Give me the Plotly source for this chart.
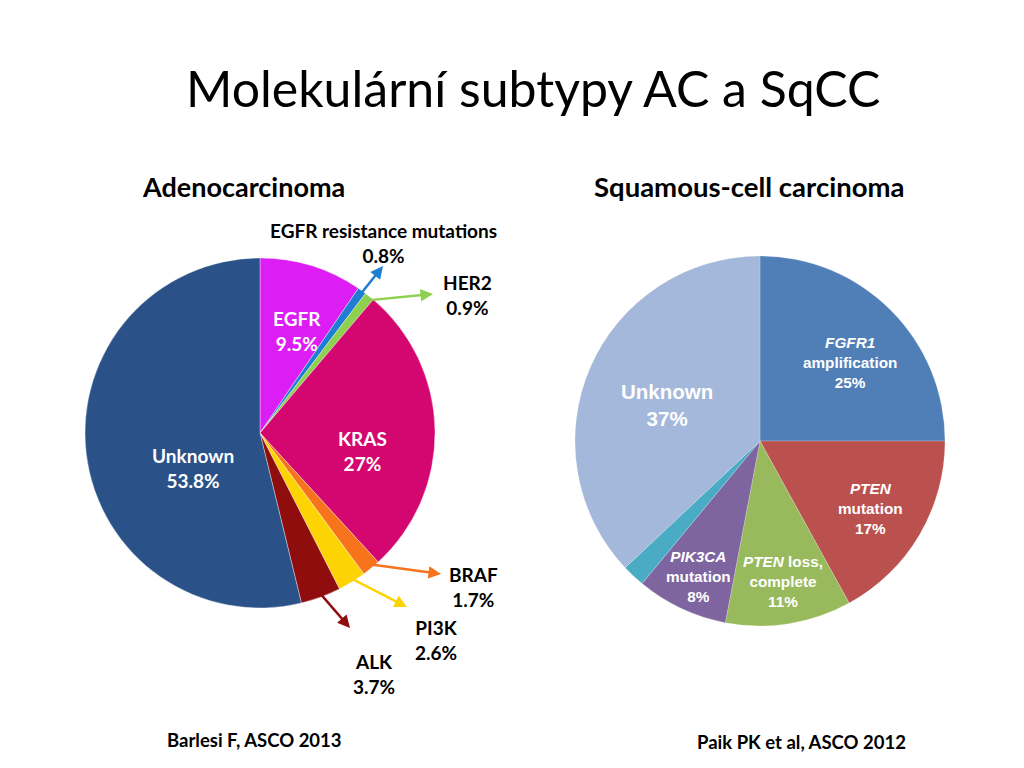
import math
import plotly.graph_objects as go

# Adenocarcinoma (Barlesi F, ASCO 2013)
ac_labels = ['EGFR', 'EGFR resistance mutations', 'HER2', 'KRAS', 'BRAF', 'PI3K', 'ALK', 'Unknown']
ac_values = [9.5, 0.8, 0.9, 27, 1.7, 2.6, 3.7, 53.8]
ac_colors = ['#DC1EF5', '#1F7ED2', '#8ED14E', '#D3076F', '#F7731C', '#FDD304', '#900D0D', '#2A5289']

# Squamous-cell carcinoma (Paik PK et al, ASCO 2012)
sq_labels = ['FGFR1 amplification', 'PTEN mutation', 'PTEN loss, complete', 'PIK3CA mutation', 'Other', 'Unknown']
sq_values = [25, 17, 11, 8, 2, 37]
sq_colors = ['#4F7FB6', '#BB514E', '#98B95C', '#7F65A0', '#4AACC4', '#A3B8DA']

W, H = 1024, 768
OFF = 8  # page body margin shifts everything by ~8px


def px(x, y):
    return (x - OFF) / W, 1 - (y - OFF) / H


def dom(x0, x1, y0, y1):
    a, b = px(x0, y1)
    c, d = px(x1, y0)
    return dict(x=[a, c], y=[b, d])


fig = go.Figure()

# left pie: centre (260, 433), radius 175 px
fig.add_trace(go.Pie(labels=ac_labels, values=ac_values, sort=False, direction='clockwise',
                     rotation=0, textinfo='none', hoverinfo='label+value',
                     marker=dict(colors=ac_colors, line=dict(color='rgba(255,255,255,0.6)', width=0.6)),
                     domain=dom(85, 435, 258, 608)))

# right pie: centre (760, 441), radius 185 px
fig.add_trace(go.Pie(labels=sq_labels, values=sq_values, sort=False, direction='clockwise',
                     rotation=0, textinfo='none', hoverinfo='label+value',
                     marker=dict(colors=sq_colors, line=dict(color='rgba(255,255,255,0.4)', width=0.5)),
                     domain=dom(575, 945, 256, 626)))

ann = []


def label(x, y, text, size=19, color='black', family='Lato', bold=True, anchor='center'):
    xx, yy = px(x, y)
    ann.append(dict(x=xx, y=yy, xref='paper', yref='paper', text=('<b>%s</b>' % text) if bold else text,
                    showarrow=False, font=dict(family=family, size=size, color=color),
                    xanchor=anchor, yanchor='middle'))


# titles
label(533, 88, 'Molekulární subtypy AC a SqCC', size=50, bold=False)
label(140, 187, 'Adenocarcinoma', size=27, anchor='left')
label(906, 187, 'Squamous-cell carcinoma', size=27.5, anchor='right')
label(165, 740, 'Barlesi F, ASCO 2013', size=18.5, anchor='left')
label(908, 742, 'Paik PK et al, ASCO 2012', size=18.5, anchor='right')

# left pie labels
label(297, 331, 'EGFR<br>%s%%' % ac_values[0], color='white')
label(362, 451, 'KRAS<br>%g%%' % ac_values[3], color='white')
label(193, 468, 'Unknown<br>%s%%' % ac_values[7], color='white')
label(383, 243, 'EGFR resistance mutations<br>%s%%' % ac_values[1])
label(467, 295, 'HER2<br>%s%%' % ac_values[2])
label(473, 587, 'BRAF<br>%s%%' % ac_values[4])
label(436, 640, 'PI3K<br>%s%%' % ac_values[5])
label(374, 674, 'ALK<br>%s%%' % ac_values[6])

# arrows from the small slices out to their labels
cx, cy, R = 260, 433, 175
heads = {1: (383, 266), 2: (433, 294), 4: (441, 574), 5: (407, 607), 6: (350, 628)}
total = sum(ac_values)
cum = 0
for i, v in enumerate(ac_values):
    mid = (cum + v / 2) / total * 2 * math.pi
    cum += v
    if i not in heads:
        continue
    r0 = R * (0.88 if i == 1 else 0.97)
    tx, ty = cx + r0 * math.sin(mid), cy - r0 * math.cos(mid)
    hx, hy = heads[i]
    x, y = px(hx, hy)
    ann.append(dict(x=x, y=y, xref='paper', yref='paper', text='',
                    showarrow=True, ax=tx - hx, ay=ty - hy, axref='pixel', ayref='pixel',
                    arrowhead=2, arrowsize=1, arrowwidth=2.5, arrowcolor=ac_colors[i], standoff=0))

# right pie labels
rf = 'Liberation Sans'
label(850, 362, '<i>FGFR1</i><br>amplification<br>%d%%' % sq_values[0], size=15.3, color='white', family=rf)
label(870, 508, '<i>PTEN</i><br>mutation<br>%d%%' % sq_values[1], size=15.3, color='white', family=rf)
label(783, 581, '<i>PTEN</i> loss,<br>complete<br>%d%%' % sq_values[2], size=15.3, color='white', family=rf)
label(698, 576, '<i>PIK3CA</i><br>mutation<br>%d%%' % sq_values[3], size=15.3, color='white', family=rf)
label(667, 405, 'Unknown<br>%d%%' % sq_values[5], size=20.5, color='white', family=rf)

fig.update_layout(width=W, height=H, margin=dict(l=0, r=0, t=0, b=0), showlegend=False,
                  paper_bgcolor='white', plot_bgcolor='white', annotations=ann)
fig.write_html("out.html")
